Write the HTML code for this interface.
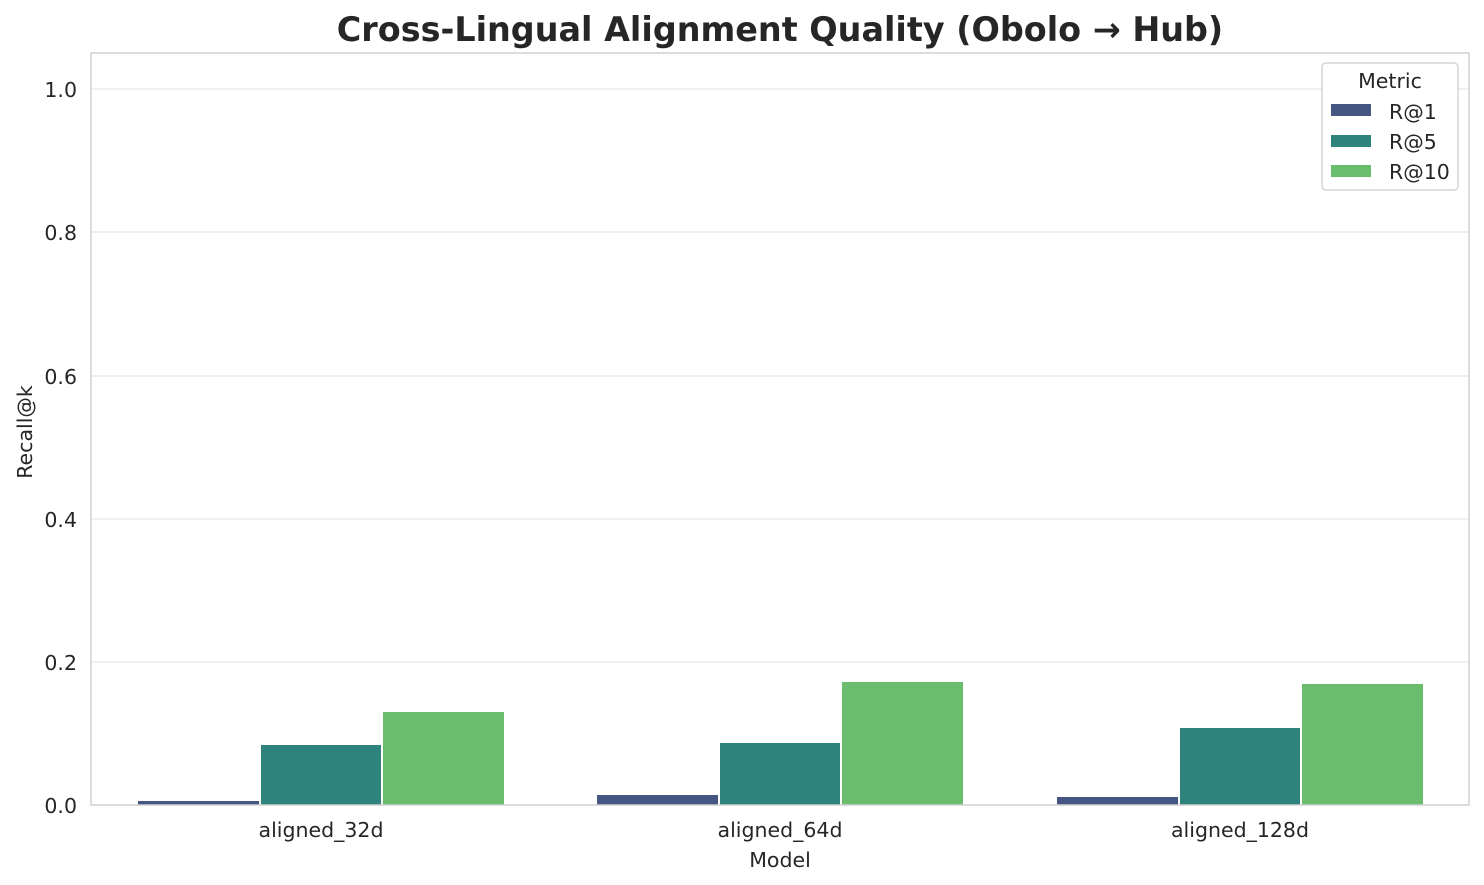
<!DOCTYPE html>
<html><head><meta charset="utf-8"><style>body{margin:0;background:#fff}svg{display:block}</style></head><body>
<svg width="1484" height="885" xmlns="http://www.w3.org/2000/svg" font-family="DejaVu Sans, Liberation Sans, sans-serif" fill="#262626">
<text x="780" y="41" text-anchor="middle" font-size="33.4" font-weight="bold">Cross-Lingual Alignment Quality (Obolo → Hub)</text>
<g stroke="#ebebeb" stroke-width="1.5">
<line x1="91" x2="1469" y1="89" y2="89"/><line x1="91" x2="1469" y1="232" y2="232"/><line x1="91" x2="1469" y1="376" y2="376"/><line x1="91" x2="1469" y1="519" y2="519"/><line x1="91" x2="1469" y1="662" y2="662"/>
</g>
<g>
<rect x="138" y="801" width="121" height="4" fill="#455683"/>
<rect x="261" y="745" width="120" height="60" fill="#2e837c"/>
<rect x="383" y="712" width="121" height="93" fill="#6abd6d"/>
<rect x="597" y="795" width="121" height="10" fill="#455683"/>
<rect x="720" y="743" width="120" height="62" fill="#2e837c"/>
<rect x="842" y="682" width="121" height="123" fill="#6abd6d"/>
<rect x="1057" y="797" width="121" height="8" fill="#455683"/>
<rect x="1180" y="728" width="120" height="77" fill="#2e837c"/>
<rect x="1302" y="684" width="121" height="121" fill="#6abd6d"/>
</g>
<rect x="91" y="53" width="1378" height="752" fill="none" stroke="#d0d0d0" stroke-width="1.5"/>
<g font-size="20.5" text-anchor="end">
<text x="77" y="97">1.0</text><text x="77" y="240">0.8</text><text x="77" y="384">0.6</text><text x="77" y="527">0.4</text><text x="77" y="670">0.2</text><text x="77" y="813">0.0</text>
</g>
<g font-size="20.5" text-anchor="middle">
<text x="321" y="837">aligned_32d</text><text x="780" y="837">aligned_64d</text><text x="1240" y="837">aligned_128d</text>
<text x="780" y="867">Model</text>
<text transform="translate(32,432) rotate(-90)">Recall@k</text>
</g>
<rect x="1322" y="63" width="136" height="127" rx="4" fill="#fff" stroke="#cccccc" stroke-width="1.2"/>
<text x="1390" y="88" font-size="20.5" text-anchor="middle">Metric</text>
<rect x="1331" y="104" width="40" height="12" fill="#455683"/>
<rect x="1331" y="135" width="40" height="12" fill="#2e837c"/>
<rect x="1331" y="165" width="40" height="12" fill="#6abd6d"/>
<g font-size="20.5"><text x="1389" y="119">R@1</text><text x="1389" y="149">R@5</text><text x="1389" y="179">R@10</text></g>
</svg>
</body></html>
